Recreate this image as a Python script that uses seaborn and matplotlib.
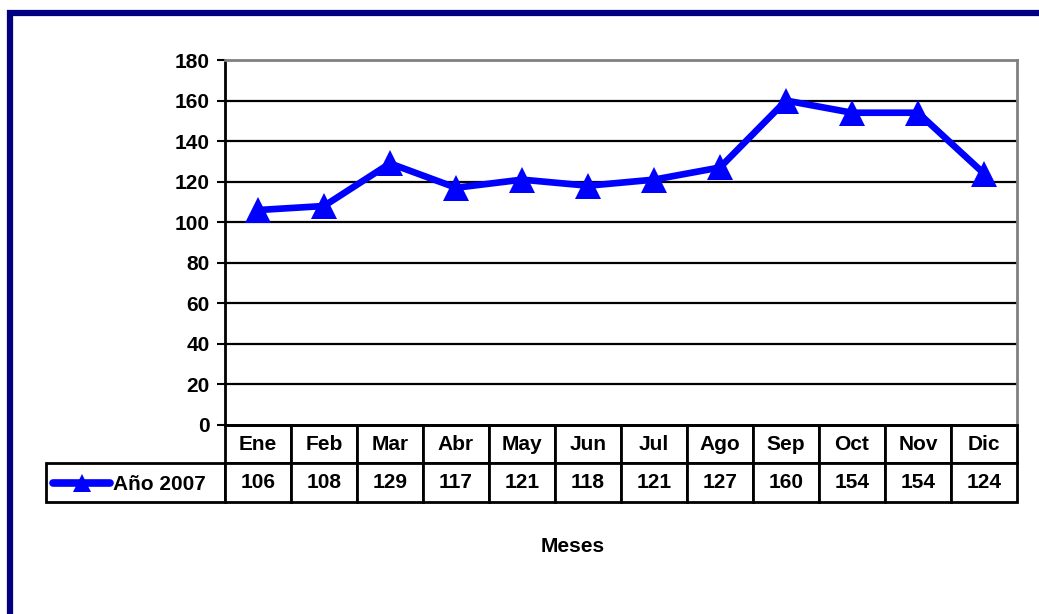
import numpy as np
import pandas as pd
import matplotlib
matplotlib.use("Agg")
import matplotlib.pyplot as plt
from matplotlib.patches import Rectangle
import seaborn as sns

# Datos del grafico
meses = ['Ene', 'Feb', 'Mar', 'Abr', 'May', 'Jun', 'Jul', 'Ago', 'Sep', 'Oct', 'Nov', 'Dic']
valores = [106, 108, 129, 117, 121, 118, 121, 127, 160, 154, 154, 124]
serie = 'Año 2007'
yticks = list(range(0, 181, 20))

sns.set_style('white')
plt.rcParams['font.family'] = ['Liberation Sans', 'DejaVu Sans']
plt.rcParams['font.weight'] = 'bold'
plt.rcParams['text.color'] = 'black'
plt.rcParams['ytick.color'] = 'black'
plt.rcParams['ytick.labelcolor'] = 'black'

fs = 15

df = pd.DataFrame({'mes': meses, 'valor': valores})
df['pos'] = np.arange(len(meses))

fig = plt.figure(figsize=(10.39, 6.14), dpi=100)
ax = fig.add_axes([225/1039, 1-425/614, 792/1039, 365/614])

sns.lineplot(data=df, x='pos', y='valor', ax=ax, color='#0000FF', linewidth=4.8,
             marker='^', markersize=19, markeredgewidth=0, label=serie)

ax.set_xlim(-0.5, len(meses) - 0.5)
ax.set_ylim(0, 180)
ax.set_yticks(yticks)
ax.set_xticks([])
ax.set_xlabel('')
ax.set_ylabel('')
for y in yticks[1:-1]:
    ax.axhline(y, color='black', linewidth=1.6, zorder=1)
ax.tick_params(axis='y', direction='out', length=6, width=1.5, pad=5,
               labelsize=fs, left=True, colors='black')
for lab in ax.get_yticklabels():
    lab.set_fontweight('bold')

ax.spines['left'].set_color('black')
ax.spines['left'].set_linewidth(2)
ax.spines['bottom'].set_color('black')
ax.spines['bottom'].set_linewidth(2)
ax.spines['top'].set_color('#808080')
ax.spines['top'].set_linewidth(2)
ax.spines['right'].set_color('#808080')
ax.spines['right'].set_linewidth(2)

# tabla de datos bajo el grafico
celdas = [[''] + meses, [''] + [str(v) for v in valores]]
tabla = ax.table(cellText=celdas, cellLoc='center',
                 colWidths=[179] + [66] * len(meses),
                 bbox=[-179/792, -77/365, 1 + 179/792, 77/365])
tabla.auto_set_font_size(False)
tabla.set_fontsize(fs)
for (r, c), cell in tabla.get_celld().items():
    cell.set_linewidth(2)
    cell.set_edgecolor('black')
    cell.get_text().set_fontweight('bold')
    cell.get_text().set_color('black')
tabla[0, 0].visible_edges = 'open'

leg = ax.legend(loc='center left', bbox_to_anchor=(53/1039, 1-485/614),
                bbox_transform=fig.transFigure, frameon=False, fontsize=fs,
                handlelength=2.75, handletextpad=0.12, borderpad=0, borderaxespad=0,
                markerscale=0.7)
for t in leg.get_texts():
    t.set_fontweight('bold')
    t.set_color('black')
for h in leg.legend_handles:
    h.set_solid_capstyle('round')
    h.set_linewidth(5.5)

fig.text(573/1039, 1-547/614, 'Meses', ha='center', va='center',
         fontsize=fs, fontweight='bold')

# marco azul (solo borde superior e izquierdo visibles)
fig.patches.append(Rectangle((10/1039, -0.2), 1.2, 1.2 - 13/614,
                             transform=fig.transFigure, fill=False,
                             edgecolor='#000080', linewidth=4.5))

fig.savefig('out.png', dpi=100)
